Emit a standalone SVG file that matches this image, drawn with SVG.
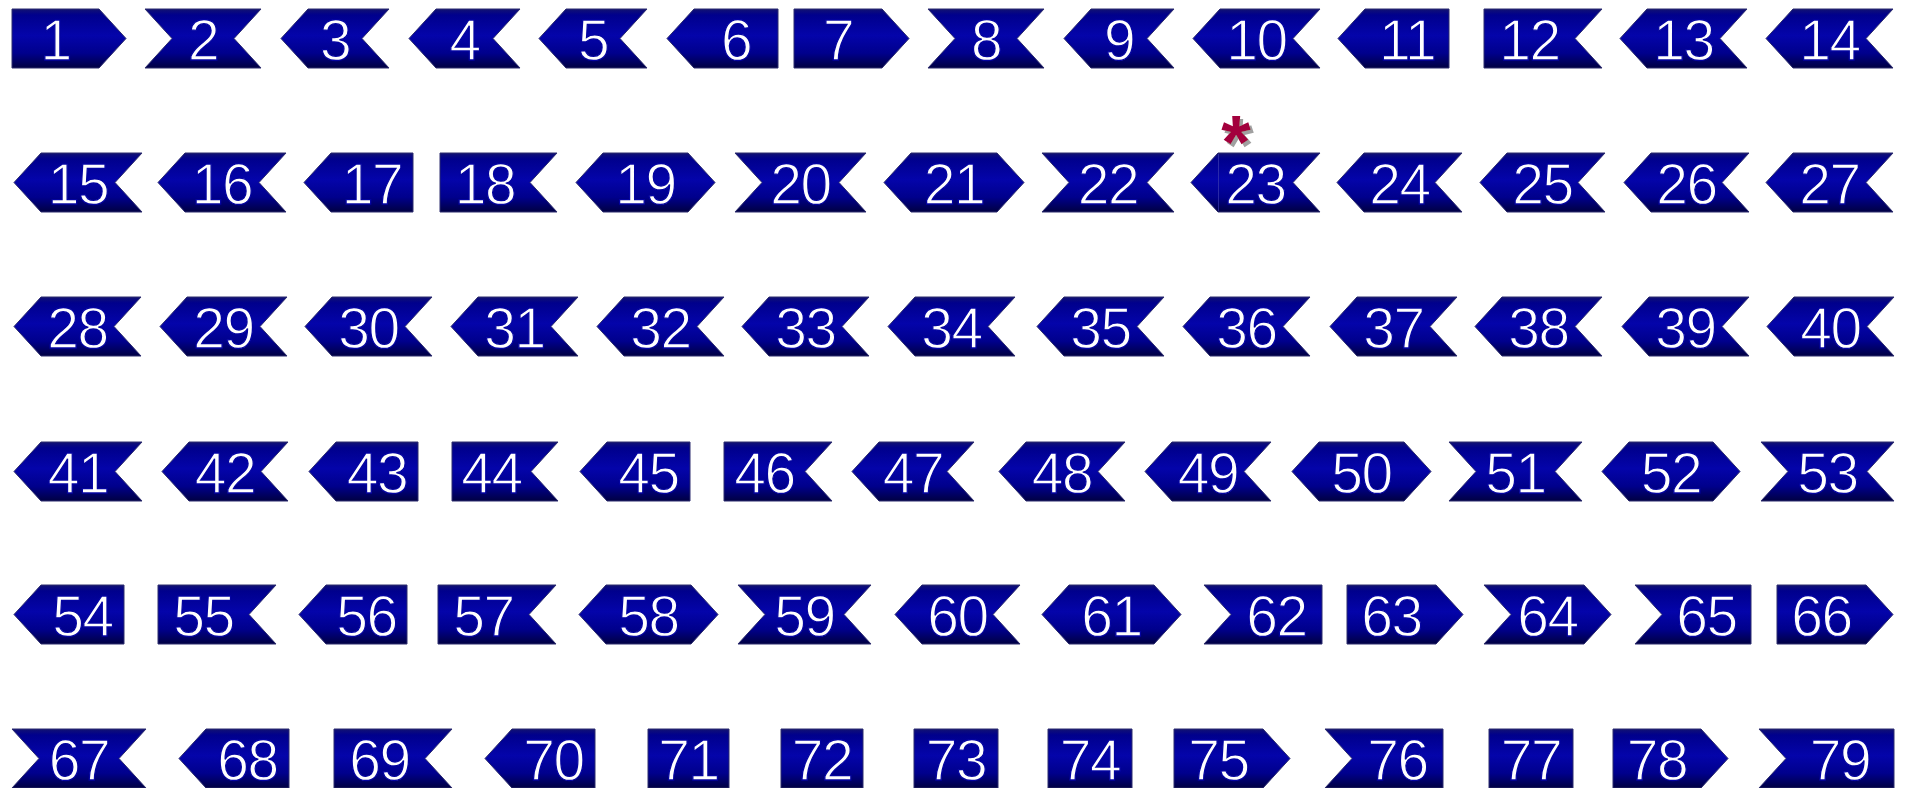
<svg xmlns="http://www.w3.org/2000/svg" width="1909" height="788" viewBox="0 0 1909 788">
<defs>
<linearGradient id="g" x1="0" y1="0" x2="0" y2="1">
<stop offset="0" stop-color="#121272"/>
<stop offset="0.1" stop-color="#00008c"/>
<stop offset="0.45" stop-color="#0404aa"/>
<stop offset="0.75" stop-color="#00008c"/>
<stop offset="1" stop-color="#000042"/>
</linearGradient>
<filter id="sh" x="-30%" y="-30%" width="160%" height="160%">
<feDropShadow dx="3" dy="3" stdDeviation="0.6" flood-color="#a0a0a0" flood-opacity="1"/>
</filter>
<style>
.s{fill:url(#g);stroke:#2c2c6e;stroke-width:1}
.t{font-family:"Liberation Sans",Arial,sans-serif;font-size:57px;fill:#ffffff;stroke:#0404a0;stroke-width:1.3px;text-anchor:middle;letter-spacing:-1.5px}
.seam{stroke:#3a3ab0;stroke-width:1;opacity:0.7}
.ast{font-family:"Liberation Sans",Arial,sans-serif;font-size:76px;font-weight:bold;text-anchor:middle;fill:#a3003c;filter:url(#sh)}
</style>
</defs>
<rect width="1909" height="788" fill="#ffffff"/>
<g id="connectors"/>
<!-- Row 1 -->
<g id="n1" transform="translate(12,9)"><path class="s" d="M0,0 L87,0 L114,29.5 L87,59 L0,59 Z"/><text class="t" x="43.5" y="51">1</text></g>
<g id="n2" transform="translate(145,9)"><path class="s" d="M0,0 L116,0 L89,29.5 L116,59 L0,59 L27,29.5 Z"/><text class="t" x="58" y="51">2</text></g>
<g id="n3" transform="translate(281,9)"><path class="s" d="M27,0 L108,0 L81,29.5 L108,59 L27,59 L0,29.5 Z"/><text class="t" x="54" y="51">3</text></g>
<g id="n4" transform="translate(409,9)"><path class="s" d="M27,0 L111,0 L84,29.5 L111,59 L27,59 L0,29.5 Z"/><text class="t" x="55.5" y="51">4</text></g>
<g id="n5" transform="translate(539,9)"><path class="s" d="M27,0 L108,0 L81,29.5 L108,59 L27,59 L0,29.5 Z"/><text class="t" x="54" y="51">5</text></g>
<g id="n6" transform="translate(667,9)"><path class="s" d="M27,0 L111,0 L111,59 L27,59 L0,29.5 Z"/><text class="t" x="69" y="51">6</text></g>
<g id="n7" transform="translate(794,9)"><path class="s" d="M0,0 L88,0 L115,29.5 L88,59 L0,59 Z"/><text class="t" x="44" y="51">7</text></g>
<g id="n8" transform="translate(928,9)"><path class="s" d="M0,0 L116,0 L89,29.5 L116,59 L0,59 L27,29.5 Z"/><text class="t" x="58" y="51">8</text></g>
<g id="n9" transform="translate(1064,9)"><path class="s" d="M27,0 L110,0 L83,29.5 L110,59 L27,59 L0,29.5 Z"/><text class="t" x="55" y="51">9</text></g>
<g id="n10" transform="translate(1193,9)"><path class="s" d="M27,0 L127,0 L100,29.5 L127,59 L27,59 L0,29.5 Z"/><text class="t" x="63.5" y="51">10</text></g>
<g id="n11" transform="translate(1338,9)"><path class="s" d="M27,0 L111,0 L111,59 L27,59 L0,29.5 Z"/><text class="t" x="69" y="51">11</text></g>
<g id="n12" transform="translate(1484,9)"><path class="s" d="M0,0 L118,0 L91,29.5 L118,59 L0,59 Z"/><text class="t" x="45.5" y="51">12</text></g>
<g id="n13" transform="translate(1620,9)"><path class="s" d="M27,0 L127,0 L100,29.5 L127,59 L27,59 L0,29.5 Z"/><text class="t" x="63.5" y="51">13</text></g>
<g id="n14" transform="translate(1766,9)"><path class="s" d="M27,0 L127,0 L100,29.5 L127,59 L27,59 L0,29.5 Z"/><text class="t" x="63.5" y="51">14</text></g>
<!-- Row 2 -->
<g id="n15" transform="translate(14,153)"><path class="s" d="M27,0 L128,0 L101,29.5 L128,59 L27,59 L0,29.5 Z"/><text class="t" x="64" y="51">15</text></g>
<g id="n16" transform="translate(158,153)"><path class="s" d="M27,0 L128,0 L101,29.5 L128,59 L27,59 L0,29.5 Z"/><text class="t" x="64" y="51">16</text></g>
<g id="n17" transform="translate(304,153)"><path class="s" d="M27,0 L109,0 L109,59 L27,59 L0,29.5 Z"/><text class="t" x="68" y="51">17</text></g>
<g id="n18" transform="translate(440,153)"><path class="s" d="M0,0 L117,0 L90,29.5 L117,59 L0,59 Z"/><text class="t" x="45" y="51">18</text></g>
<g id="n19" transform="translate(576,153)"><path class="s" d="M27,0 L112,0 L139,29.5 L112,59 L27,59 L0,29.5 Z"/><text class="t" x="69.5" y="51">19</text></g>
<g id="n20" transform="translate(735,153)"><path class="s" d="M0,0 L131,0 L104,29.5 L131,59 L0,59 L27,29.5 Z"/><text class="t" x="65.5" y="51">20</text></g>
<g id="n21" transform="translate(884,153)"><path class="s" d="M27,0 L113,0 L140,29.5 L113,59 L27,59 L0,29.5 Z"/><text class="t" x="70" y="51">21</text></g>
<g id="n22" transform="translate(1042,153)"><path class="s" d="M0,0 L132,0 L105,29.5 L132,59 L0,59 L27,29.5 Z"/><text class="t" x="66" y="51">22</text></g>
<g id="n23" transform="translate(1191,153)"><path class="s" d="M27,0 L129,0 L102,29.5 L129,59 L27,59 L0,29.5 Z"/><line class="seam" x1="27.5" y1="1" x2="27.5" y2="58"/><text class="t" x="64.5" y="51">23</text></g>
<g id="n24" transform="translate(1337,153)"><path class="s" d="M27,0 L125,0 L98,29.5 L125,59 L27,59 L0,29.5 Z"/><text class="t" x="62.5" y="51">24</text></g>
<g id="n25" transform="translate(1480,153)"><path class="s" d="M27,0 L125,0 L98,29.5 L125,59 L27,59 L0,29.5 Z"/><text class="t" x="62.5" y="51">25</text></g>
<g id="n26" transform="translate(1624,153)"><path class="s" d="M27,0 L125,0 L98,29.5 L125,59 L27,59 L0,29.5 Z"/><text class="t" x="62.5" y="51">26</text></g>
<g id="n27" transform="translate(1766,153)"><path class="s" d="M27,0 L127,0 L100,29.5 L127,59 L27,59 L0,29.5 Z"/><text class="t" x="63.5" y="51">27</text></g>
<g id="asterisk"><text class="ast" x="1236" y="168">*</text></g>
<!-- Row 3 -->
<g id="n28" transform="translate(14,297)"><path class="s" d="M27,0 L127,0 L100,29.5 L127,59 L27,59 L0,29.5 Z"/><text class="t" x="63.5" y="51">28</text></g>
<g id="n29" transform="translate(160,297)"><path class="s" d="M27,0 L127,0 L100,29.5 L127,59 L27,59 L0,29.5 Z"/><text class="t" x="63.5" y="51">29</text></g>
<g id="n30" transform="translate(305,297)"><path class="s" d="M27,0 L127,0 L100,29.5 L127,59 L27,59 L0,29.5 Z"/><text class="t" x="63.5" y="51">30</text></g>
<g id="n31" transform="translate(451,297)"><path class="s" d="M27,0 L127,0 L100,29.5 L127,59 L27,59 L0,29.5 Z"/><text class="t" x="63.5" y="51">31</text></g>
<g id="n32" transform="translate(597,297)"><path class="s" d="M27,0 L127,0 L100,29.5 L127,59 L27,59 L0,29.5 Z"/><text class="t" x="63.5" y="51">32</text></g>
<g id="n33" transform="translate(742,297)"><path class="s" d="M27,0 L127,0 L100,29.5 L127,59 L27,59 L0,29.5 Z"/><text class="t" x="63.5" y="51">33</text></g>
<g id="n34" transform="translate(888,297)"><path class="s" d="M27,0 L127,0 L100,29.5 L127,59 L27,59 L0,29.5 Z"/><text class="t" x="63.5" y="51">34</text></g>
<g id="n35" transform="translate(1037,297)"><path class="s" d="M27,0 L127,0 L100,29.5 L127,59 L27,59 L0,29.5 Z"/><text class="t" x="63.5" y="51">35</text></g>
<g id="n36" transform="translate(1183,297)"><path class="s" d="M27,0 L127,0 L100,29.5 L127,59 L27,59 L0,29.5 Z"/><text class="t" x="63.5" y="51">36</text></g>
<g id="n37" transform="translate(1330,297)"><path class="s" d="M27,0 L127,0 L100,29.5 L127,59 L27,59 L0,29.5 Z"/><text class="t" x="63.5" y="51">37</text></g>
<g id="n38" transform="translate(1475,297)"><path class="s" d="M27,0 L127,0 L100,29.5 L127,59 L27,59 L0,29.5 Z"/><text class="t" x="63.5" y="51">38</text></g>
<g id="n39" transform="translate(1622,297)"><path class="s" d="M27,0 L127,0 L100,29.5 L127,59 L27,59 L0,29.5 Z"/><text class="t" x="63.5" y="51">39</text></g>
<g id="n40" transform="translate(1767,297)"><path class="s" d="M27,0 L127,0 L100,29.5 L127,59 L27,59 L0,29.5 Z"/><text class="t" x="63.5" y="51">40</text></g>
<!-- Row 4 -->
<g id="n41" transform="translate(14,442)"><path class="s" d="M27,0 L128,0 L101,29.5 L128,59 L27,59 L0,29.5 Z"/><text class="t" x="64" y="51">41</text></g>
<g id="n42" transform="translate(162,442)"><path class="s" d="M27,0 L126,0 L99,29.5 L126,59 L27,59 L0,29.5 Z"/><text class="t" x="63" y="51">42</text></g>
<g id="n43" transform="translate(309,442)"><path class="s" d="M27,0 L109,0 L109,59 L27,59 L0,29.5 Z"/><text class="t" x="68" y="51">43</text></g>
<g id="n44" transform="translate(452,442)"><path class="s" d="M0,0 L106,0 L79,29.5 L106,59 L0,59 Z"/><text class="t" x="39.5" y="51">44</text></g>
<g id="n45" transform="translate(580,442)"><path class="s" d="M27,0 L110,0 L110,59 L27,59 L0,29.5 Z"/><text class="t" x="68.5" y="51">45</text></g>
<g id="n46" transform="translate(724,442)"><path class="s" d="M0,0 L108,0 L81,29.5 L108,59 L0,59 Z"/><text class="t" x="40.5" y="51">46</text></g>
<g id="n47" transform="translate(852,442)"><path class="s" d="M27,0 L122,0 L95,29.5 L122,59 L27,59 L0,29.5 Z"/><text class="t" x="61" y="51">47</text></g>
<g id="n48" transform="translate(999,442)"><path class="s" d="M27,0 L126,0 L99,29.5 L126,59 L27,59 L0,29.5 Z"/><text class="t" x="63" y="51">48</text></g>
<g id="n49" transform="translate(1145,442)"><path class="s" d="M27,0 L126,0 L99,29.5 L126,59 L27,59 L0,29.5 Z"/><text class="t" x="63" y="51">49</text></g>
<g id="n50" transform="translate(1292,442)"><path class="s" d="M27,0 L112,0 L139,29.5 L112,59 L27,59 L0,29.5 Z"/><text class="t" x="69.5" y="51">50</text></g>
<g id="n51" transform="translate(1449,442)"><path class="s" d="M0,0 L133,0 L106,29.5 L133,59 L0,59 L27,29.5 Z"/><text class="t" x="66.5" y="51">51</text></g>
<g id="n52" transform="translate(1602,442)"><path class="s" d="M27,0 L111,0 L138,29.5 L111,59 L27,59 L0,29.5 Z"/><text class="t" x="69" y="51">52</text></g>
<g id="n53" transform="translate(1761,442)"><path class="s" d="M0,0 L133,0 L106,29.5 L133,59 L0,59 L27,29.5 Z"/><text class="t" x="66.5" y="51">53</text></g>
<!-- Row 5 -->
<g id="n54" transform="translate(14,585)"><path class="s" d="M27,0 L110,0 L110,59 L27,59 L0,29.5 Z"/><text class="t" x="68.5" y="51">54</text></g>
<g id="n55" transform="translate(158,585)"><path class="s" d="M0,0 L118,0 L91,29.5 L118,59 L0,59 Z"/><text class="t" x="45.5" y="51">55</text></g>
<g id="n56" transform="translate(299,585)"><path class="s" d="M27,0 L108,0 L108,59 L27,59 L0,29.5 Z"/><text class="t" x="67.5" y="51">56</text></g>
<g id="n57" transform="translate(438,585)"><path class="s" d="M0,0 L118,0 L91,29.5 L118,59 L0,59 Z"/><text class="t" x="45.5" y="51">57</text></g>
<g id="n58" transform="translate(579,585)"><path class="s" d="M27,0 L112,0 L139,29.5 L112,59 L27,59 L0,29.5 Z"/><text class="t" x="69.5" y="51">58</text></g>
<g id="n59" transform="translate(738,585)"><path class="s" d="M0,0 L133,0 L106,29.5 L133,59 L0,59 L27,29.5 Z"/><text class="t" x="66.5" y="51">59</text></g>
<g id="n60" transform="translate(895,585)"><path class="s" d="M27,0 L125,0 L98,29.5 L125,59 L27,59 L0,29.5 Z"/><text class="t" x="62.5" y="51">60</text></g>
<g id="n61" transform="translate(1042,585)"><path class="s" d="M27,0 L112,0 L139,29.5 L112,59 L27,59 L0,29.5 Z"/><text class="t" x="69.5" y="51">61</text></g>
<g id="n62" transform="translate(1204,585)"><path class="s" d="M0,0 L118,0 L118,59 L0,59 L27,29.5 Z"/><text class="t" x="72.5" y="51">62</text></g>
<g id="n63" transform="translate(1347,585)"><path class="s" d="M0,0 L89,0 L116,29.5 L89,59 L0,59 Z"/><text class="t" x="44.5" y="51">63</text></g>
<g id="n64" transform="translate(1484,585)"><path class="s" d="M0,0 L100,0 L127,29.5 L100,59 L0,59 L27,29.5 Z"/><text class="t" x="63.5" y="51">64</text></g>
<g id="n65" transform="translate(1635,585)"><path class="s" d="M0,0 L116,0 L116,59 L0,59 L27,29.5 Z"/><text class="t" x="71.5" y="51">65</text></g>
<g id="n66" transform="translate(1777,585)"><path class="s" d="M0,0 L89,0 L116,29.5 L89,59 L0,59 Z"/><text class="t" x="44.5" y="51">66</text></g>
<!-- Row 6 -->
<g id="n67" transform="translate(12,729)"><path class="s" d="M0,0 L134,0 L107,29.5 L134,59 L0,59 L27,29.5 Z"/><text class="t" x="67" y="51">67</text></g>
<g id="n68" transform="translate(179,729)"><path class="s" d="M27,0 L110,0 L110,59 L27,59 L0,29.5 Z"/><text class="t" x="68.5" y="51">68</text></g>
<g id="n69" transform="translate(334,729)"><path class="s" d="M0,0 L118,0 L91,29.5 L118,59 L0,59 Z"/><text class="t" x="45.5" y="51">69</text></g>
<g id="n70" transform="translate(485,729)"><path class="s" d="M27,0 L110,0 L110,59 L27,59 L0,29.5 Z"/><text class="t" x="68.5" y="51">70</text></g>
<g id="n71" transform="translate(648,729)"><path class="s" d="M0,0 L81,0 L81,59 L0,59 Z"/><text class="t" x="40.5" y="51">71</text></g>
<g id="n72" transform="translate(781,729)"><path class="s" d="M0,0 L82,0 L82,59 L0,59 Z"/><text class="t" x="41" y="51">72</text></g>
<g id="n73" transform="translate(914,729)"><path class="s" d="M0,0 L84,0 L84,59 L0,59 Z"/><text class="t" x="42" y="51">73</text></g>
<g id="n74" transform="translate(1048,729)"><path class="s" d="M0,0 L84,0 L84,59 L0,59 Z"/><text class="t" x="42" y="51">74</text></g>
<g id="n75" transform="translate(1174,729)"><path class="s" d="M0,0 L89,0 L116,29.5 L89,59 L0,59 Z"/><text class="t" x="44.5" y="51">75</text></g>
<g id="n76" transform="translate(1325,729)"><path class="s" d="M0,0 L118,0 L118,59 L0,59 L27,29.5 Z"/><text class="t" x="72.5" y="51">76</text></g>
<g id="n77" transform="translate(1489,729)"><path class="s" d="M0,0 L84,0 L84,59 L0,59 Z"/><text class="t" x="42" y="51">77</text></g>
<g id="n78" transform="translate(1613,729)"><path class="s" d="M0,0 L88,0 L115,29.5 L88,59 L0,59 Z"/><text class="t" x="44" y="51">78</text></g>
<g id="n79" transform="translate(1759,729)"><path class="s" d="M0,0 L135,0 L135,59 L0,59 L27,29.5 Z"/><text class="t" x="81" y="51">79</text></g>
</svg>
